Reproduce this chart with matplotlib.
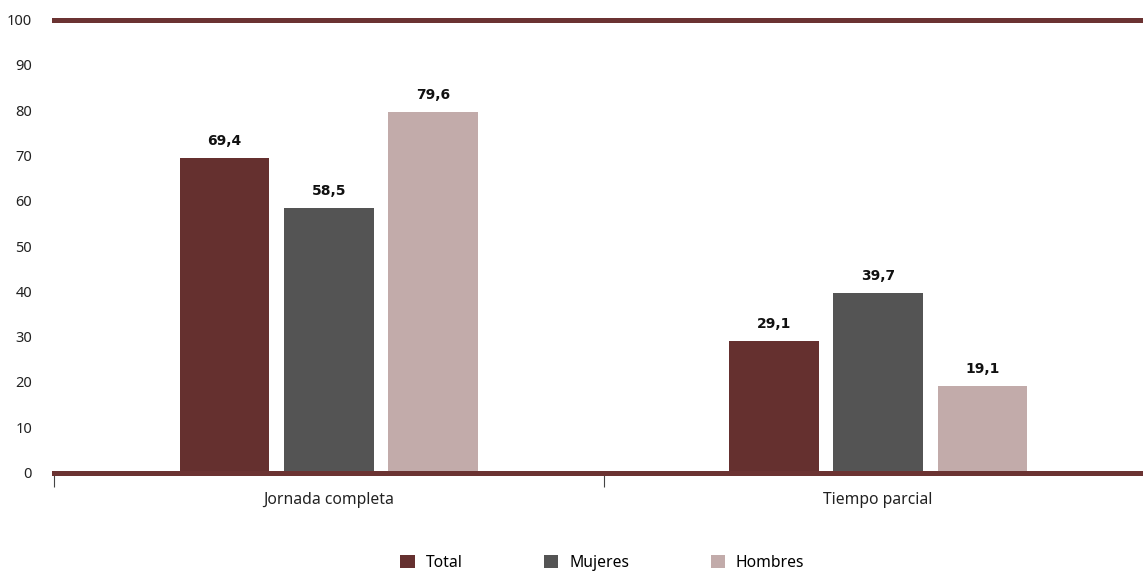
import matplotlib.pyplot as plt
import numpy as np

categories = ['Jornada completa', 'Tiempo parcial']
series = ['Total', 'Mujeres', 'Hombres']
total = [69.4, 29.1]
mujeres = [58.5, 39.7]
hombres = [79.6, 19.1]
yticks = [0, 10, 20, 30, 40, 50, 60, 70, 80, 90, 100]

colors = ['#65302f', '#545454', '#c2abaa']
lineColor = '#6b3332'

plt.rcParams['font.family'] = ['Noto Sans', 'DejaVu Sans']

fig = plt.figure(figsize=(11.43, 5.78), dpi=100)
ax = fig.add_axes([0.0475, 0.1825, 0.961, 0.7837])

x = np.arange(len(categories))
width = 0.1636
step = 0.19
for i, (name, values) in enumerate(zip(series, [total, mujeres, hombres])):
    pos = x + (i - 1) * step
    bars = ax.bar(pos, values, width, color=colors[i], label=name, zorder=3)
    for b, v in zip(bars, values):
        ax.annotate('{:.1f}'.format(v).replace('.', ','),
                    (b.get_x() + b.get_width() / 2, v), xytext=(0, 7),
                    textcoords='offset points', ha='center', va='bottom',
                    fontsize=10, fontweight='bold', family='DejaVu Sans', color='#111111')

# thick rules at 0 and 100
ax.axhline(0, color=lineColor, lw=3.6, zorder=4, clip_on=False)
ax.axhline(100, color=lineColor, lw=3.6, zorder=4, clip_on=False)

ax.set_xlim(-0.5, 1.5)
ax.set_ylim(0, 100)
ax.set_yticks(yticks)
ax.tick_params(axis='y', length=0, labelsize=10.5, pad=16, labelcolor='#222222')

ax.set_xticks([-0.5, 0.5, 1.5])
ax.set_xticklabels([])
ax.tick_params(axis='x', which='major', length=10, width=0.8, color='#444444', direction='out')
ax.set_xticks(x, minor=True)
ax.set_xticklabels(categories, minor=True)
ax.tick_params(axis='x', which='minor', length=0, labelsize=11.3, pad=14, labelcolor='#222222')

for s in ax.spines.values():
    s.set_visible(False)

fig.legend(loc='lower center', bbox_to_anchor=(0.527, -0.012), ncol=3, frameon=False,
           fontsize=11.3, handlelength=0.9, handleheight=0.9, handletextpad=0.7,
           columnspacing=5.2)

fig.savefig('out.png', dpi=100)
